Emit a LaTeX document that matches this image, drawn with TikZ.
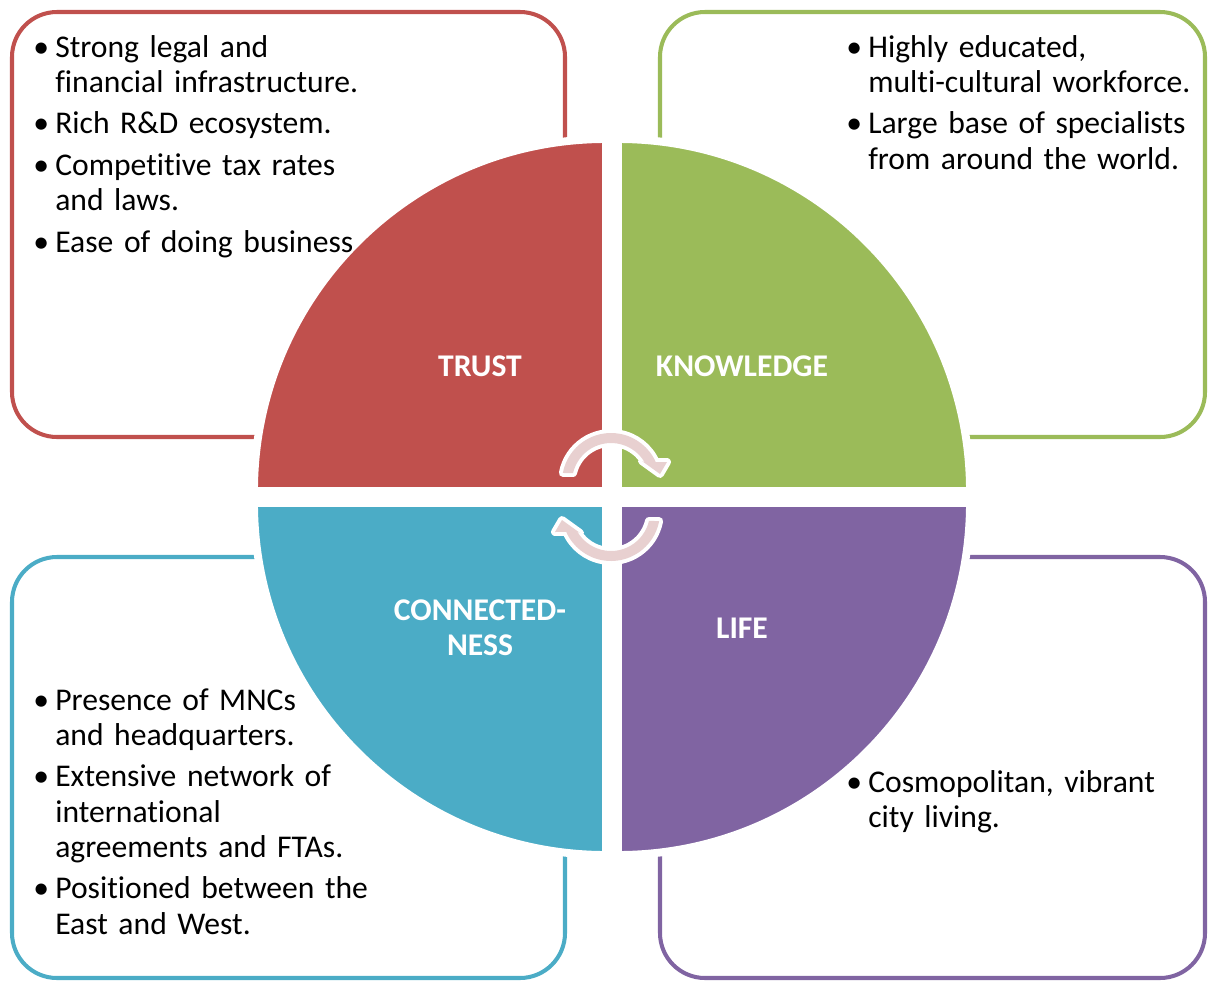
\documentclass[tikz,border=0pt]{standalone}
\usepackage{fontspec}
\setmainfont{Carlito}[Ligatures=NoCommon]

\definecolor{trustred}{HTML}{C0504D}
\definecolor{knowgreen}{HTML}{9BBB59}
\definecolor{connblue}{HTML}{4BACC6}
\definecolor{lifepurple}{HTML}{8064A2}
\definecolor{arrowpink}{HTML}{E8D0D0}

% bullet point with hanging indent
\newcommand{\pitem}[1]{\noindent\hangindent=12.5pt\hangafter=1\makebox[12.5pt][l]{\textbullet}#1\par\vspace{3.5pt}}

\begin{document}
\begin{tikzpicture}[x=0.02cm, y=0.02cm,
		infobox/.style={line width=2.3pt, rounded corners=0.9cm},
		quarter/.style={draw=white, line width=4.5pt},
		heading/.style={text=white, align=center, font=\bfseries\fontsize{18}{19.8}\selectfont},
		points/.style={anchor=base west, inner sep=0pt, text width=9cm, align=left, font=\fontsize{18}{20.1}\selectfont},
		cyclearrow/.style={fill=arrowpink, preaction={draw=white, line width=4.5pt, line join=round}}]
	\useasboundingbox (0,0) rectangle (1208,-981);

	% outer boxes
	\draw[infobox, trustred]   (12,-12)  rectangle (565,-437);
	\draw[infobox, knowgreen]  (660,-12) rectangle (1205,-437);
	\draw[infobox, connblue]   (12,-557) rectangle (565,-978);
	\draw[infobox, lifepurple] (660,-557) rectangle (1205,-978);

	% the four quarters
	\filldraw[quarter, fill=trustred]   (606,-491) -- ++(-352,0) arc[start angle=180, end angle=90, radius=352] -- cycle;
	\filldraw[quarter, fill=knowgreen]  (618,-491) -- ++(0,352) arc[start angle=90, end angle=0, radius=352] -- cycle;
	\filldraw[quarter, fill=connblue]   (606,-503) -- ++(-352,0) arc[start angle=180, end angle=270, radius=352] -- cycle;
	\filldraw[quarter, fill=lifepurple] (618,-503) -- ++(352,0) arc[start angle=0, end angle=-90, radius=352] -- cycle;

	\node[heading] (trust)     at (480,-366) {TRUST};
	\node[heading] (knowledge) at (742,-366) {KNOWLEDGE};
	\node[heading] (connect)   at (480,-628) {CONNECTED-\\NESS};
	\node[heading] (life)      at (742,-628) {LIFE};

	% cycle arrows in the middle
	\foreach \cy/\rot in {-482/0, -512/180}{
		\begin{scope}[shift={(611,\cy)}, rotate=\rot]
			\path[cyclearrow] (169.4:49) arc[start angle=169.4, end angle=24, radius=49]
				-- (56,20) -- (49,8) -- (31,21) -- (30:39)
				arc[start angle=30, end angle=166.7, radius=39] -- cycle;
		\end{scope}
	}

	% bullet lists
	\node[points] (trustpts) at (33,-57) {%
		\pitem{Strong legal and\newline financial infrastructure.}
		\pitem{Rich R\&D ecosystem.}
		\pitem{Competitive tax rates\newline and laws.}
		\pitem{Ease of doing business}};
	\node[points] (knowpts) at (846,-57) {%
		\pitem{Highly educated,\newline multi-cultural workforce.}
		\pitem{Large base of specialists\newline from around the world.}};
	\node[points] (connpts) at (33,-710) {%
		\pitem{Presence of MNCs\newline and headquarters.}
		\pitem{Extensive network of\newline international\newline agreements and FTAs.}
		\pitem{Positioned between the\newline East and West.}};
	\node[points] (lifepts) at (846,-792) {%
		\pitem{Cosmopolitan, vibrant\newline city living.}};
\end{tikzpicture}
\end{document}
